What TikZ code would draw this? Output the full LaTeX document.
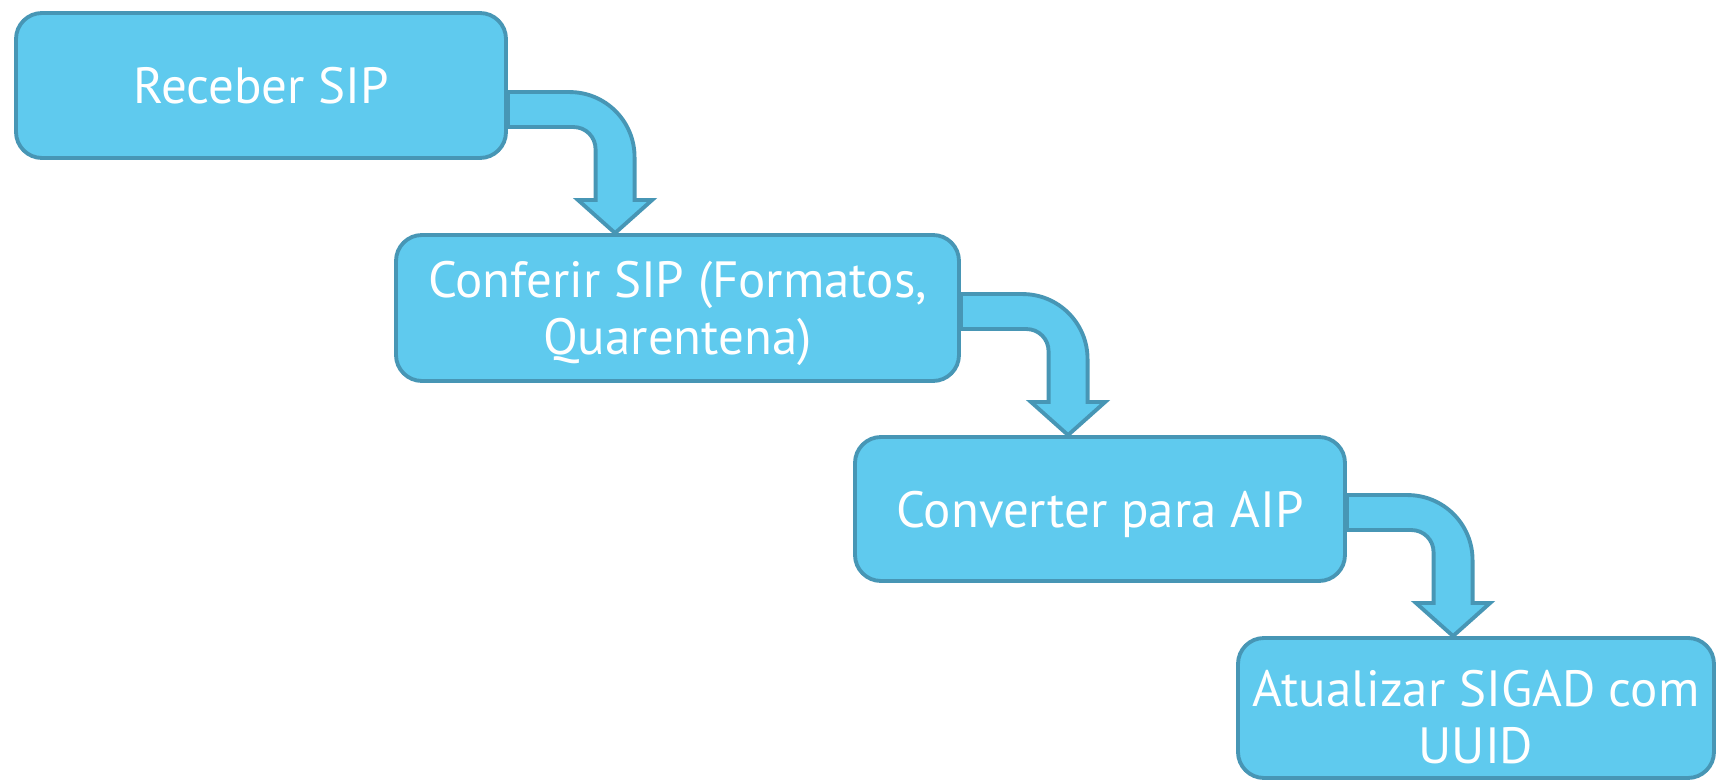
\documentclass[tikz,border=0pt]{standalone}
\usepackage{fontspec}
\setmainfont{PT Sans}
\usetikzlibrary{calc}

\definecolor{boxfill}{HTML}{5FCAEE}
\definecolor{boxline}{HTML}{4796B5}

\tikzset{
  stepbox/.style={draw=boxline,fill=boxfill,line width=1.1pt,rounded corners=2.6mm,
    text=white,align=center,font=\fontsize{14.5}{16.3}\selectfont,inner sep=0pt,text depth=0pt},
  bentarrow/.style={draw=boxline,fill=boxfill,line width=1.1pt,line join=miter}
}

% bent block arrow from the east side of #1 down onto the top of #2, tip #3 right of its corner
\newcommand{\bentarrow}[3]{%
\draw[bentarrow] let \p1=(#1.east), \p2=($(#2.north west)+(#3,0)$) in
  (\x1,\y2+1.41cm) -- (\x2-0.455cm,\y2+1.41cm)
  arc[start angle=90,end angle=0,radius=0.65cm]
  -- (\x2+0.195cm,\y2+0.33cm) -- (\x2+0.37cm,\y2+0.33cm) -- (\x2,\y2)
  -- (\x2-0.37cm,\y2+0.33cm) -- (\x2-0.195cm,\y2+0.33cm)
  -- (\x2-0.195cm,\y2+0.84cm)
  arc[start angle=0,end angle=90,radius=0.22cm]
  -- (\x1,\y2+1.06cm) -- cycle;}

\begin{document}
\begin{tikzpicture}
\useasboundingbox (0,0) rectangle (17.16,-7.80);
\clip (0,0) rectangle (17.16,-7.80);

% steps
\node[stepbox,minimum width=4.90cm,minimum height=1.45cm] (receber) at (2.61,-0.855) {Receber SIP};
\node[stepbox,minimum width=5.63cm,minimum height=1.46cm] (conferir) at (6.775,-3.08) {Conferir SIP (Formatos,\\Quarentena)};
\node[stepbox,minimum width=4.90cm,minimum height=1.44cm] (converter) at (11.00,-5.09) {Converter para AIP};
\node[stepbox,text height=31.5pt,minimum width=4.76cm,minimum height=1.40cm] (atualizar) at (14.76,-7.08) {Atualizar SIGAD com\\UUID};

% arrows
\bentarrow{receber}{conferir}{2.21}
\bentarrow{conferir}{converter}{2.15}
\bentarrow{converter}{atualizar}{2.17}
\end{tikzpicture}
\end{document}
